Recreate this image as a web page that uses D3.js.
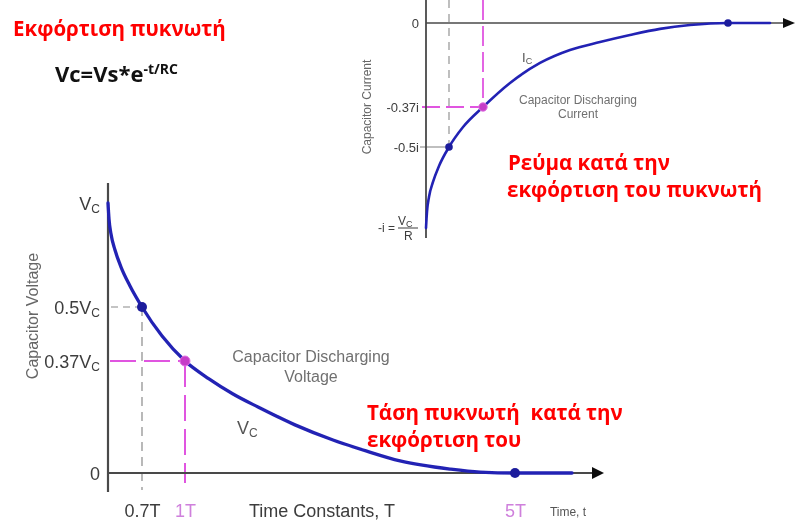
<!DOCTYPE html>
<html>
<head>
<meta charset="utf-8">
<script src="https://cdn.jsdelivr.net/npm/d3@7"></script>
<style>
  html, body { margin: 0; padding: 0; background: #fff; }
  svg { display: block; }
  .lbl { font-family: "Liberation Sans", Arial, sans-serif; }
  .gr { font-family: "Open Sans", sans-serif; font-weight: 700; fill: #ff0000; }
</style>
</head>
<body>
<svg id="chart" width="796" height="523"></svg>
<script>
// ---- Data -------------------------------------------------------------
// Time axis anchors, in time constants T
const timeKnots = [0, 0.7, 1, 5];
const timeTicks = [0.7, 1, 5];
const timeTickLabels = ["0.7T", "1T", "5T"];

// Voltage while discharging (fraction of Vc)
const voltKnots = [0, 0.37, 0.5, 1];
const voltTicks = [0, 0.37, 0.5, 1];
const voltTickLabels = [["0", ""], ["0.37V", "C"], ["0.5V", "C"], ["V", "C"]];
const voltTime = [0, 0.021, 0.062, 0.144, 0.268, 0.453, 0.7, 0.84, 1, 1.291, 1.582, 1.885, 2.333, 2.794, 3.194, 3.606, 4.212, 4.576, 5, 5.691];
const voltage  = [1.0, 0.923, 0.851, 0.774, 0.692, 0.601, 0.5, 0.43, 0.37, 0.311, 0.261, 0.218, 0.159, 0.109, 0.073, 0.040, 0.013, 0.003, 0, 0];

// Current while discharging (fraction of i)
const currKnots = [0, -0.37, -0.5, -1];
const currTicks = [0, -0.37, -0.5];
const currTickLabels = ["0", "-0.37i", "-0.5i"];
const currTime = [0, 0.03, 0.091, 0.213, 0.396, 0.7, 0.824, 1, 1.441, 1.931, 2.42, 2.91, 3.4, 3.89, 4.38, 5, 5.686];
const current  = [-1, -0.901, -0.809, -0.716, -0.617, -0.5, -0.435, -0.37, -0.264, -0.176, -0.119, -0.084, -0.053, -0.026, -0.009, 0, 0];

// Highlighted points: t = 0.7T, 1T, 5T
const markTime = [0.7, 1, 5];
const markVolt = [0.5, 0.37, 0];
const markCurr = [-0.5, -0.37, 0];

// ---- Styles -----------------------------------------------------------
const CURVE = "#2323b4";
const DOT = "#1c1c9c";
const MAG = "#e055e0";
const MAG_TXT = "#cf80dc";
const AXIS = "#4a4a4a";
const GUIDE = "#8a8a8a";

const svg = d3.select("#chart");

const defs = svg.append("defs");
defs.append("filter").attr("id", "soft")
  .append("feGaussianBlur").attr("stdDeviation", 0.35);

// ---- Voltage chart (lower) -------------------------------------------
const xV = d3.scaleLinear().domain(timeKnots).range([108, 142, 185, 515]);
const yV = d3.scaleLinear().domain(voltKnots).range([473, 361, 307, 203]);

const gV = svg.append("g").attr("filter", "url(#soft)");

// guide lines
gV.append("line").attr("x1", xV(0) + 3).attr("x2", xV(0.7)).attr("y1", yV(0.5)).attr("y2", yV(0.5))
  .attr("stroke", GUIDE).attr("stroke-width", 1.2).attr("stroke-dasharray", "7,5");
gV.append("line").attr("x1", xV(0.7)).attr("x2", xV(0.7)).attr("y1", yV(0.5)).attr("y2", yV(0) + 17)
  .attr("stroke", GUIDE).attr("stroke-width", 1.2).attr("stroke-dasharray", "9,6");
gV.append("line").attr("x1", xV(0) + 2).attr("x2", xV(1)).attr("y1", yV(0.37)).attr("y2", yV(0.37))
  .attr("stroke", MAG).attr("stroke-width", 2).attr("stroke-dasharray", "26,8");
gV.append("line").attr("x1", xV(1)).attr("x2", xV(1)).attr("y1", yV(0.37)).attr("y2", yV(0) + 10)
  .attr("stroke", MAG).attr("stroke-width", 2).attr("stroke-dasharray", "26,8");

// axes lines
gV.append("line").attr("x1", xV(0)).attr("x2", xV(0)).attr("y1", 183).attr("y2", 492)
  .attr("stroke", AXIS).attr("stroke-width", 2.2);
gV.append("line").attr("x1", xV(0)).attr("x2", 592).attr("y1", yV(0)).attr("y2", yV(0))
  .attr("stroke", AXIS).attr("stroke-width", 2);
gV.append("path").attr("d", `M592,${yV(0) - 6}L604,${yV(0)}L592,${yV(0) + 6}Z`).attr("fill", "#111");

// y axis tick labels
const axV = d3.axisLeft(yV).tickValues(voltTicks).tickSize(0).tickPadding(8).tickFormat("");
const gAxV = gV.append("g").attr("transform", `translate(${xV(0)},0)`).call(axV);
gAxV.select(".domain").remove();
gAxV.selectAll(".tick text").each(function(d, i) {
  const t = d3.select(this).attr("class", "lbl").attr("font-size", 18).attr("fill", "#3c3c3c")
    .attr("dy", "0.36em").attr("font-family", null);
  t.append("tspan").text(voltTickLabels[i][0]);
  if (voltTickLabels[i][1]) t.append("tspan").attr("font-size", 12).attr("dy", "0.25em").text(voltTickLabels[i][1]);
});

// x axis tick labels
const axVx = d3.axisBottom(xV).tickValues(timeTicks).tickSize(0).tickPadding(0)
  .tickFormat((d, i) => timeTickLabels[i]);
const gAxVx = gV.append("g").attr("transform", `translate(0,517)`).call(axVx);
gAxVx.select(".domain").remove();
gAxVx.selectAll(".tick text").attr("class", "lbl").attr("font-family", null).attr("font-size", 18)
  .attr("dy", 0).attr("fill", (d, i) => i === 0 ? "#3c3c3c" : MAG_TXT);

// curve
const lineV = d3.line().x((d, i) => xV(voltTime[i])).y(d => yV(d)).curve(d3.curveMonotoneX);
gV.append("path").datum(voltage).attr("d", lineV).attr("fill", "none")
  .attr("stroke", CURVE).attr("stroke-width", 3.3).attr("stroke-linecap", "round");

// markers
gV.selectAll(".mv").data(markTime).enter().append("circle")
  .attr("cx", d => xV(d)).attr("cy", (d, i) => yV(markVolt[i]))
  .attr("r", 5)
  .attr("fill", (d, i) => i === 1 ? "#c63cc8" : DOT)
  .attr("stroke", (d, i) => i === 1 ? "#e070e0" : "none").attr("stroke-width", 1);

// chart texts
gV.append("text").attr("class", "lbl").attr("x", 32).attr("y", 316)
  .attr("transform", "rotate(-90,32,316)").attr("text-anchor", "middle")
  .attr("font-size", 16).attr("fill", "#666").attr("dy", "0.35em").text("Capacitor Voltage");
gV.append("text").attr("class", "lbl").attr("x", 322).attr("y", 517).attr("text-anchor", "middle")
  .attr("font-size", 18).attr("fill", "#3c3c3c").text("Time Constants, T");
gV.append("text").attr("class", "lbl").attr("x", 568).attr("y", 516).attr("text-anchor", "middle")
  .attr("font-size", 12).attr("fill", "#555").text("Time, t");
gV.append("text").attr("class", "lbl").attr("x", 311).attr("y", 362).attr("text-anchor", "middle")
  .attr("font-size", 16).attr("fill", "#707070").text("Capacitor Discharging");
gV.append("text").attr("class", "lbl").attr("x", 311).attr("y", 382).attr("text-anchor", "middle")
  .attr("font-size", 16).attr("fill", "#707070").text("Voltage");
const vcL = gV.append("text").attr("class", "lbl").attr("x", 237).attr("y", 434)
  .attr("font-size", 18).attr("fill", "#555");
vcL.append("tspan").text("V");
vcL.append("tspan").attr("font-size", 12).attr("dy", 3).text("C");

// ---- Current chart (upper) -------------------------------------------
const xI = d3.scaleLinear().domain(timeKnots).range([426, 449, 483, 728]);
const yI = d3.scaleLinear().domain(currKnots).range([23, 107, 147, 228]);

const gI = svg.append("g").attr("filter", "url(#soft)");

gI.append("line").attr("x1", xI(0.7)).attr("x2", xI(0.7)).attr("y1", 0).attr("y2", yI(-0.5))
  .attr("stroke", GUIDE).attr("stroke-width", 1.1).attr("stroke-dasharray", "8,6");
gI.append("line").attr("x1", xI(0) - 6).attr("x2", xI(0.7)).attr("y1", yI(-0.5)).attr("y2", yI(-0.5))
  .attr("stroke", GUIDE).attr("stroke-width", 1.1);
gI.append("line").attr("x1", xI(1)).attr("x2", xI(1)).attr("y1", 0).attr("y2", yI(-0.37))
  .attr("stroke", MAG).attr("stroke-width", 1.8).attr("stroke-dasharray", "20,6");
gI.append("line").attr("x1", xI(0) - 4).attr("x2", xI(1)).attr("y1", yI(-0.37)).attr("y2", yI(-0.37))
  .attr("stroke", MAG).attr("stroke-width", 1.8).attr("stroke-dasharray", "18,6");

gI.append("line").attr("x1", xI(0)).attr("x2", xI(0)).attr("y1", 0).attr("y2", 238)
  .attr("stroke", AXIS).attr("stroke-width", 1.8);
gI.append("line").attr("x1", xI(0)).attr("x2", 784).attr("y1", yI(0)).attr("y2", yI(0))
  .attr("stroke", AXIS).attr("stroke-width", 1.6);
gI.append("path").attr("d", `M783,${yI(0) - 5}L795,${yI(0)}L783,${yI(0) + 5}Z`).attr("fill", "#111");

const axI = d3.axisLeft(yI).tickValues(currTicks).tickSize(0).tickPadding(7)
  .tickFormat((d, i) => currTickLabels[i]);
const gAxI = gI.append("g").attr("transform", `translate(${xI(0)},0)`).call(axI);
gAxI.select(".domain").remove();
gAxI.selectAll(".tick text").attr("class", "lbl").attr("font-family", null)
  .attr("font-size", 13).attr("fill", "#3c3c3c");

// -i = Vc / R label at the bottom of the current axis
const yMin = yI(-1);
gI.append("text").attr("class", "lbl").attr("x", 395).attr("y", yMin + 4).attr("text-anchor", "end")
  .attr("font-size", 12).attr("fill", "#3c3c3c").text("-i =");
const fr = gI.append("text").attr("class", "lbl").attr("x", 398).attr("y", yMin - 3)
  .attr("font-size", 12).attr("fill", "#3c3c3c");
fr.append("tspan").text("V");
fr.append("tspan").attr("font-size", 9).attr("dy", 2).text("C");
gI.append("line").attr("x1", 398).attr("x2", 418).attr("y1", yMin).attr("y2", yMin)
  .attr("stroke", "#3c3c3c").attr("stroke-width", 1);
gI.append("text").attr("class", "lbl").attr("x", 404).attr("y", yMin + 12)
  .attr("font-size", 12).attr("fill", "#3c3c3c").text("R");

const lineI = d3.line().x((d, i) => xI(currTime[i])).y(d => yI(d)).curve(d3.curveMonotoneX);
gI.append("path").datum(current).attr("d", lineI).attr("fill", "none")
  .attr("stroke", CURVE).attr("stroke-width", 2.6).attr("stroke-linecap", "round");

gI.selectAll(".mi").data(markTime).enter().append("circle")
  .attr("cx", d => xI(d)).attr("cy", (d, i) => yI(markCurr[i]))
  .attr("r", (d, i) => i === 1 ? 4.2 : 3.8)
  .attr("fill", (d, i) => i === 1 ? "#c63cc8" : DOT)
  .attr("stroke", (d, i) => i === 1 ? "#e070e0" : "none").attr("stroke-width", 1);

gI.append("text").attr("class", "lbl").attr("x", 367).attr("y", 107)
  .attr("transform", "rotate(-90,367,107)").attr("text-anchor", "middle")
  .attr("font-size", 12).attr("fill", "#666").attr("dy", "0.35em").text("Capacitor Current");
gI.append("text").attr("class", "lbl").attr("x", 578).attr("y", 104).attr("text-anchor", "middle")
  .attr("font-size", 12).attr("fill", "#707070").text("Capacitor Discharging");
gI.append("text").attr("class", "lbl").attr("x", 578).attr("y", 118).attr("text-anchor", "middle")
  .attr("font-size", 12).attr("fill", "#707070").text("Current");
const icL = gI.append("text").attr("class", "lbl").attr("x", 522).attr("y", 62)
  .attr("font-size", 13).attr("fill", "#555");
icL.append("tspan").text("I");
icL.append("tspan").attr("font-size", 9).attr("dy", 2).text("C");

// ---- Titles and notes -------------------------------------------------
svg.append("text").attr("class", "gr").attr("x", 13).attr("y", 36).attr("font-size", 20.5)
  .text("Εκφόρτιση πυκνωτή");
const eq = svg.append("text").attr("x", 55).attr("y", 82)
  .attr("font-family", "'Open Sans', sans-serif").attr("font-weight", 700)
  .attr("font-size", 22).attr("fill", "#111");
eq.append("tspan").text("Vc=Vs*e");
eq.append("tspan").attr("font-size", 14).attr("dy", -8).text("-t/RC");

svg.append("text").attr("class", "gr").attr("x", 508).attr("y", 170).attr("font-size", 20.5)
  .text("Ρεύμα κατά την");
svg.append("text").attr("class", "gr").attr("x", 507).attr("y", 197).attr("font-size", 20.5)
  .text("εκφόρτιση του πυκνωτή");
svg.append("text").attr("class", "gr").attr("x", 367).attr("y", 420).attr("font-size", 20.5)
  .attr("xml:space", "preserve").style("white-space", "pre")
  .text("Τάση πυκνωτή  κατά την");
svg.append("text").attr("class", "gr").attr("x", 367).attr("y", 447).attr("font-size", 20.5)
  .text("εκφόρτιση του");
</script>
</body>
</html>
